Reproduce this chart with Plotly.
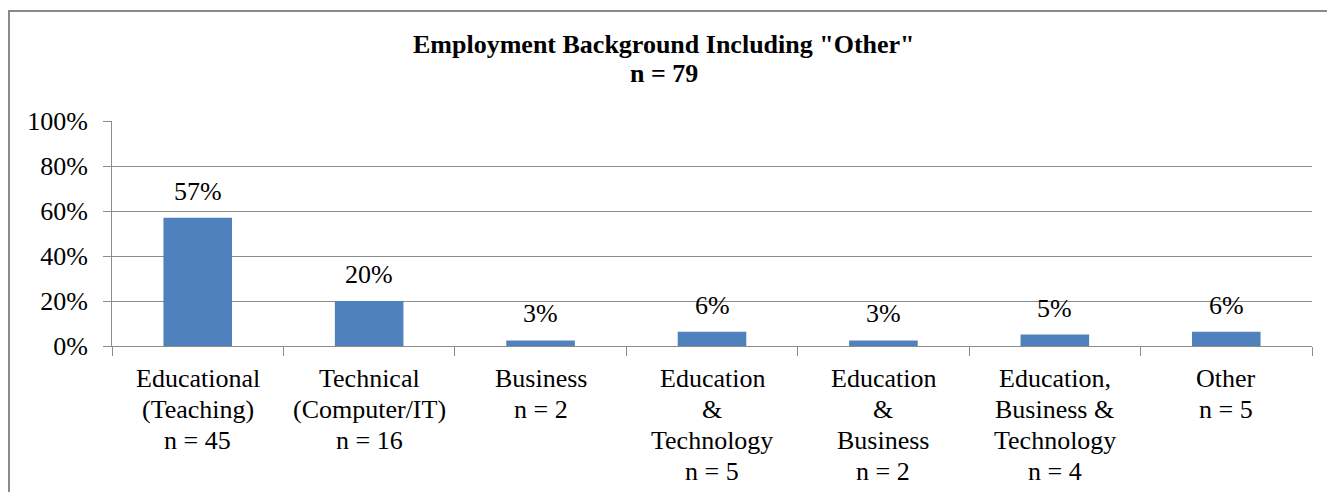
import plotly.graph_objects as go

categories = [
    "Educational\n(Teaching)\nn = 45",
    "Technical\n(Computer/IT)\nn = 16",
    "Business\nn = 2",
    "Education\n&\nTechnology\nn = 5",
    "Education\n&\nBusiness\nn = 2",
    "Education,\nBusiness &\nTechnology\nn = 4",
    "Other\nn = 5",
]
values = [57, 20, 2.5, 6.3, 2.5, 5.1, 6.3]
value_labels = ["57%", "20%", "3%", "6%", "3%", "5%", "6%"]
y_ticks = [0, 20, 40, 60, 80, 100]
y_tick_labels = ["0%", "20%", "40%", "60%", "80%", "100%"]
title_lines = ['Employment Background Including "Other"', "n = 79"]

W, H = 1327, 492
ML, MR, MT, MB = 112, 15, 121, 146
PW = W - ML - MR
PH = H - MT - MB

FONT = "Liberation Serif, Times New Roman, serif"
GRID = "#8c8c8c"
BAR = "#4f81bd"

fig = go.Figure()
fig.add_trace(go.Bar(
    x=categories, y=values,
    marker=dict(color=BAR, line=dict(width=0)),
    hoverinfo="skip",
))

annotations = []
# value labels above bars
for c, v, t in zip(categories, values, value_labels):
    annotations.append(dict(
        x=c, y=v, xref="x", yref="y", text=t, showarrow=False,
        yanchor="bottom", xanchor="center", yshift=10,
        font=dict(family=FONT, size=26, color="#000000"),
    ))
# category labels (one annotation per line for tighter line spacing)
for c in categories:
    for k, line in enumerate(c.split("\n")):
        annotations.append(dict(
            x=c, y=0, xref="x", yref="paper", text=line, showarrow=False,
            yanchor="middle", xanchor="center", yshift=-(32 + 31.1 * k),
            font=dict(family=FONT, size=26, color="#000000"),
        ))
# title lines
title_x = (W / 2 - ML) / PW
for k, line in enumerate(title_lines):
    annotations.append(dict(
        x=title_x, y=1, xref="paper", yref="paper", text="<b>" + line + "</b>",
        showarrow=False, xanchor="center", yanchor="middle",
        yshift=(MT - 44.2) - 29.7 * k,
        font=dict(family=FONT, size=26, color="#000000"),
    ))

fig.update_layout(
    width=W, height=H,
    margin=dict(l=ML, r=MR, t=MT, b=MB, pad=0),
    paper_bgcolor="white", plot_bgcolor="white",
    showlegend=False,
    bargap=0.6,
    annotations=annotations,
    shapes=[dict(
        type="rect", xref="paper", yref="paper",
        x0=(9 - ML) / PW, x1=1.2, y0=-1.0, y1=1 + (MT - 11) / PH,
        line=dict(color="#8a8a8a", width=2), fillcolor="rgba(0,0,0,0)",
        layer="below",
    )],
)
fig.update_xaxes(
    showticklabels=False, showgrid=False, zeroline=False,
    showline=True, linecolor=GRID, linewidth=1,
    ticks="outside", tickson="boundaries", ticklen=9, tickcolor=GRID, tickwidth=1,
    range=[-0.5, len(categories) - 0.5], fixedrange=True,
)
fig.update_yaxes(
    range=[0, 100], tickvals=y_ticks, ticktext=y_tick_labels,
    showgrid=True, gridcolor=GRID, gridwidth=1, zeroline=False,
    showline=True, linecolor=GRID, linewidth=1,
    ticks="outside", ticklen=8, tickcolor=GRID, tickwidth=1,
    ticklabelstandoff=10,
    tickfont=dict(family=FONT, size=26, color="#000000"),
    fixedrange=True,
)

fig.write_html(
    "out.html",
    config={"displayModeBar": False},
    post_script="document.body.style.margin='0';document.body.style.overflow='hidden';",
)
